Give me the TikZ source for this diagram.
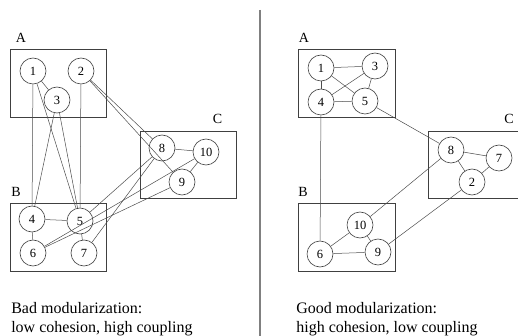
\documentclass[tikz,border=0pt]{standalone}
\usepackage{fontspec}
\setmainfont{Liberation Serif}
\begin{document}
\begin{tikzpicture}[x=1pt,y=-1pt,line width=0.6pt]
\tikzset{
  mod/.style={draw=black!75,line width=0.8pt},
  cls/.style={circle,draw=black!75,fill=white,minimum size=26pt,inner sep=0pt,
    font=\fontsize{12.5}{12.5}\selectfont},
  tag/.style={inner sep=0pt,font=\fontsize{14}{14}\selectfont},
  dep/.style={draw=black!70,line width=0.5pt},
  note/.style={align=left,anchor=north west,inner sep=0pt,
    font=\fontsize{16}{19}\selectfont}}
\useasboundingbox (0,0) rectangle (518,336);
% divider
\draw[gray,line width=1.2pt] (260,10) -- (260,336);
% ---------- bad modularization ----------
\draw[mod] (10,49) rectangle (106,117);
\draw[mod] (10,203) rectangle (106,271);
\draw[mod] (140,131) rectangle (236,198);
\node[tag] (bA) at (21,38) {A};
\node[tag] (bB) at (16,191.5) {B};
\node[tag] (bC) at (217.5,119) {C};
\node[cls] (b1) at (33,71) {1};   \node[cls] (b2) at (81,71) {2};
\node[cls] (b3) at (57,100) {3};
\node[cls] (b4) at (32,219) {4};  \node[cls] (b5) at (80,221) {5};
\node[cls] (b6) at (33,253) {6};  \node[cls] (b7) at (84,253) {7};
\node[cls] (b8) at (162,148) {8}; \node[cls] (b10) at (206,152) {10};
\node[cls] (b9) at (182,182) {9};
\draw[dep] (b1) -- (b3);  \draw[dep] (b1) -- (b4);  \draw[dep] (b1) -- (b5);
\draw[dep] (b3) -- (b4);  \draw[dep] (b3) -- (b5);  \draw[dep] (b2) -- (b5);
\draw[dep] (b2) -- (b8);  \draw[dep] (b2) -- (b9);
\draw[dep] (b4) -- (b5);  \draw[dep] (b4) -- (b6);  \draw[dep] (b5) -- (b7);
\draw[dep] (b8) -- (b10); \draw[dep] (b10) -- (b9);
\draw[dep] (b8) -- (b5);  \draw[dep] (b8) -- (b7);
\draw[dep] (b10) -- (b6); \draw[dep] (b9) -- (b6);
\node[note] (bnote) at (11,302) {Bad modularization:\\low cohesion, high coupling};
% ---------- good modularization ----------
\draw[mod] (298,49) rectangle (395,117);
\draw[mod] (298,203) rectangle (395,271);
\draw[mod] (428,131) rectangle (522,198);
\node[tag] (gA) at (304,37.5) {A};
\node[tag] (gB) at (303,192) {B};
\node[tag] (gC) at (509,119) {C};
\node[cls] (g1) at (321,68) {1};  \node[cls] (g3) at (375,66) {3};
\node[cls] (g4) at (321,102) {4}; \node[cls] (g5) at (365,101) {5};
\node[cls] (g8) at (451,150) {8}; \node[cls] (g7) at (499,158) {7};
\node[cls] (g2) at (472,182) {2};
\node[cls] (g10) at (360,225) {10};
\node[cls] (g6) at (320,254) {6}; \node[cls] (g9) at (378,252) {9};
\draw[dep] (g1) -- (g3);  \draw[dep] (g1) -- (g4);  \draw[dep] (g1) -- (g5);
\draw[dep] (g3) -- (g4);  \draw[dep] (g3) -- (g5);  \draw[dep] (g4) -- (g5);
\draw[dep] (g5) -- (g8);  \draw[dep] (g4) -- (g6);
\draw[dep] (g8) -- (g7);  \draw[dep] (g8) -- (g2);  \draw[dep] (g7) -- (g2);
\draw[dep] (g8) -- (g10); \draw[dep] (g2) -- (g9);
\draw[dep] (g10) -- (g6); \draw[dep] (g10) -- (g9); \draw[dep] (g6) -- (g9);
\node[note] (gnote) at (296,302) {Good modularization:\\high cohesion, low coupling};
\end{tikzpicture}
\end{document}
